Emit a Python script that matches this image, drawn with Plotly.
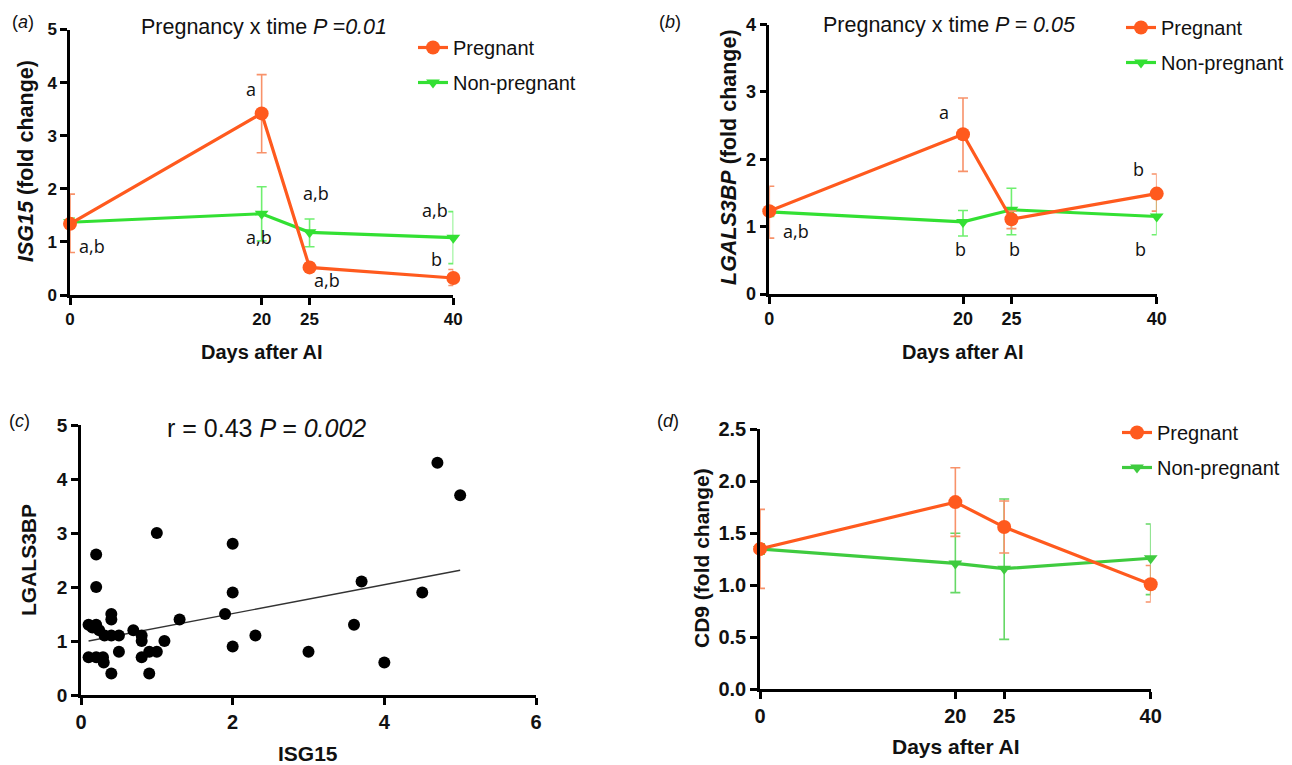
import plotly.graph_objects as go

# ---------------- data ----------------
days = [0, 20, 25, 40]

# (a) ISG15
isg_preg = [1.34, 3.42, 0.52, 0.32]
isg_preg_up = [0.56, 0.73, 0.05, 0.16]
isg_preg_dn = [0.54, 0.74, 0.05, 0.14]
isg_non = [1.37, 1.53, 1.18, 1.08]
isg_non_up = [0.08, 0.51, 0.25, 0.49]
isg_non_dn = [0.08, 0.51, 0.27, 0.49]

# (b) LGALS3BP
lg_preg = [1.23, 2.37, 1.11, 1.49]
lg_preg_up = [0.37, 0.54, 0.12, 0.29]
lg_preg_dn = [0.40, 0.55, 0.14, 0.26]
lg_non = [1.22, 1.07, 1.25, 1.15]
lg_non_up = [0.07, 0.17, 0.32, 0.27]
lg_non_dn = [0.07, 0.21, 0.37, 0.27]

# (c) correlation
sc_isg = [0.1, 0.2, 0.15, 0.24, 0.31, 0.4, 0.5, 0.4, 0.4, 0.69, 0.8, 0.8, 0.5,
          0.1, 0.2, 0.29, 0.3, 0.4, 0.8, 0.9, 1.0, 0.9, 1.1, 1.3, 1.9, 2.0,
          2.0, 2.0, 1.0, 0.2, 0.2, 2.3, 3.0, 4.7, 5.0, 3.7, 4.5, 3.6, 4.0]
sc_lg = [1.3, 1.3, 1.25, 1.2, 1.1, 1.1, 1.1, 1.5, 1.4, 1.2, 1.1, 1.0, 0.8,
         0.7, 0.7, 0.7, 0.6, 0.4, 0.7, 0.8, 0.8, 0.4, 1.0, 1.4, 1.5, 1.9,
         0.9, 2.8, 3.0, 2.6, 2.0, 1.1, 0.8, 4.3, 3.7, 2.1, 1.9, 1.3, 0.6]
fit_x = [0.1, 5.0]
fit_y = [1.0, 2.31]

# (d) CD9
cd_preg = [1.35, 1.80, 1.56, 1.01]
cd_preg_up = [0.38, 0.33, 0.25, 0.18]
cd_preg_dn = [0.38, 0.33, 0.25, 0.17]
cd_non = [1.35, 1.21, 1.16, 1.26]
cd_non_up = [0.05, 0.29, 0.67, 0.33]
cd_non_dn = [0.05, 0.28, 0.68, 0.35]

# ---------------- style ----------------
W, H = 1292, 765
FONT = "Arial, Liberation Sans, sans-serif"
ORANGE = "#FF5A1E"
ORANGE_ERR = "#F8926A"
GREEN = "#33E033"
GREEN_ERR = "#6FEF6F"
GREEN_D = "#3FCB3F"
GREEN_D_ERR = "#66D866"


def px_x(p):
    return p / W


def px_y(p):
    return 1 - p / H


fig = go.Figure()


def add_series(xa, ya, y, up, dn, name, color, ecolor, symbol, size, legend, group, rank):
    fig.add_trace(go.Scatter(
        x=days, y=y, xaxis=xa, yaxis=ya, name=name, mode="lines+markers",
        line=dict(color=color, width=3.2),
        marker=dict(color=color, symbol=symbol, size=size),
        error_y=dict(type="data", array=up, arrayminus=dn, color=ecolor,
                     thickness=1.6, width=5, symmetric=False),
        cliponaxis=False, legend=legend, legendgroup=group, legendrank=rank))


# (a)
add_series("x", "y", isg_non, isg_non_up, isg_non_dn, "Non-pregnant", GREEN, GREEN_ERR,
           "triangle-down", 12, "legend", "a2", 2)
add_series("x", "y", isg_preg, isg_preg_up, isg_preg_dn, "Pregnant", ORANGE, ORANGE_ERR,
           "circle", 14, "legend", "a1", 1)
# (b)
add_series("x2", "y2", lg_non, lg_non_up, lg_non_dn, "Non-pregnant", GREEN, GREEN_ERR,
           "triangle-down", 12, "legend2", "b2", 2)
add_series("x2", "y2", lg_preg, lg_preg_up, lg_preg_dn, "Pregnant", ORANGE, ORANGE_ERR,
           "circle", 14, "legend2", "b1", 1)
# (d)
add_series("x4", "y4", cd_non, cd_non_up, cd_non_dn, "Non-pregnant", GREEN_D, GREEN_D_ERR,
           "triangle-down", 12, "legend3", "d2", 2)
add_series("x4", "y4", cd_preg, cd_preg_up, cd_preg_dn, "Pregnant", ORANGE, ORANGE_ERR,
           "circle", 14, "legend3", "d1", 1)

# (c)
fig.add_trace(go.Scatter(x=fit_x, y=fit_y, xaxis="x3", yaxis="y3", mode="lines",
                         line=dict(color="#333333", width=1.3), showlegend=False))
fig.add_trace(go.Scatter(x=sc_isg, y=sc_lg, xaxis="x3", yaxis="y3", mode="markers",
                         marker=dict(color="black", size=12), cliponaxis=False,
                         showlegend=False))


def axis_style(domain, rng, tickvals, tsize, anchor, fmt=None):
    d = dict(domain=domain, range=rng, tickvals=tickvals, showgrid=False, zeroline=False,
             showline=True, linecolor="black", linewidth=2.5, ticks="outside",
             ticklen=7, tickwidth=2.5, tickcolor="black", anchor=anchor,
             tickfont=dict(family=FONT, size=tsize, color="#111111", weight="bold"),
             fixedrange=True, automargin=False)
    if fmt:
        d["tickformat"] = fmt
    return d


fig.update_layout(
    width=W, height=H, margin=dict(l=0, r=0, t=0, b=0, autoexpand=False),
    paper_bgcolor="white", plot_bgcolor="white",
    xaxis=axis_style([px_x(70), px_x(453.3)], [0, 40], days, 17, "y"),
    yaxis=axis_style([px_y(295), px_y(29.5)], [0, 5], [0, 1, 2, 3, 4, 5], 17, "x"),
    xaxis2=axis_style([px_x(769.3), px_x(1156.7)], [0, 40], days, 18, "y2"),
    yaxis2=axis_style([px_y(294), px_y(24.5)], [0, 4], [0, 1, 2, 3, 4], 18, "x2"),
    xaxis3=axis_style([px_x(81), px_x(536)], [0, 6], [0, 2, 4, 6], 20, "y3"),
    yaxis3=axis_style([px_y(695), px_y(425)], [0, 5], [0, 1, 2, 3, 4, 5], 19, "x3"),
    xaxis4=axis_style([px_x(760), px_x(1150.7)], [0, 40], days, 20, "y4"),
    yaxis4=axis_style([px_y(689.3), px_y(429.3)], [0, 2.5], [0, 0.5, 1, 1.5, 2, 2.5], 20, "x4", ".1f"),
)

leg_common = dict(bgcolor="rgba(0,0,0,0)", xanchor="left", yanchor="top", itemwidth=30,
                  tracegroupgap=6, traceorder="grouped")
LEGFONT = dict(family=FONT, size=20, color="#111111")
fig.update_layout(
    legend=dict(x=px_x(413), y=px_y(28), font=LEGFONT, **leg_common),
    legend2=dict(x=px_x(1121), y=px_y(8), font=LEGFONT, **leg_common),
    legend3=dict(x=px_x(1117), y=px_y(413), font=LEGFONT, **leg_common),
)

anns = []


def txt(x, y, text, size, xref="paper", yref="paper", family=FONT, bold=False, angle=0):
    anns.append(dict(x=x, y=y, xref=xref, yref=yref, text=text, showarrow=False,
                     xanchor="center", yanchor="middle", textangle=angle,
                     font=dict(family=family, size=size, color="#111111",
                               weight="bold" if bold else "normal")))


# panel letters
txt(px_x(23), px_y(22), "(<i>a</i>)", 18)
txt(px_x(670), px_y(22), "(<i>b</i>)", 18)
txt(px_x(19), px_y(421), "(<i>c</i>)", 18)
txt(px_x(668), px_y(421), "(<i>d</i>)", 18)

# titles
txt(px_x(264), px_y(27), "Pregnancy x time <i>P =0.01</i>", 21.5)
txt(px_x(949), px_y(25), "Pregnancy x time <i>P = 0.05</i>", 21.5)
txt(px_x(266), px_y(428), "r = 0.43 <i>P = 0.002</i>", 25)

# axis titles
txt(px_x(262), px_y(352), "Days after AI", 20, bold=True)
txt(px_x(963), px_y(352), "Days after AI", 20, bold=True)
txt(px_x(308), px_y(753), "ISG15", 21, bold=True)
txt(px_x(956), px_y(746), "Days after AI", 21, bold=True)
txt(px_x(26), px_y(161), "<i>ISG15</i> (fold change)", 21.5, bold=True, angle=-90)
txt(px_x(729), px_y(157), "<i>LGALS3BP</i> (fold change)", 21.5, bold=True, angle=-90)
txt(px_x(28), px_y(560), "LGALS3BP", 21, bold=True, angle=-90)
txt(px_x(701), px_y(558), "CD9 (fold change)", 21, bold=True, angle=-90)

# significance letters (data coordinates)
LET = "Open Sans, Lato, sans-serif"
letters_a = [(18.9, 3.87, "a"), (2.3, 0.93, "a,b"), (19.7, 1.10, "a,b"), (25.7, 1.93, "a,b"),
             (26.8, 0.29, "a,b"), (38.1, 1.60, "a,b"), (38.2, 0.67, "b")]
letters_b = [(18.0, 2.70, "a"), (2.8, 0.94, "a,b"), (19.7, 0.67, "b"), (25.3, 0.67, "b"),
             (38.3, 0.67, "b"), (38.1, 1.86, "b")]
for lx, ly, lt in letters_a:
    txt(lx, ly, lt, 18, xref="x", yref="y", family=LET)
for lx, ly, lt in letters_b:
    txt(lx, ly, lt, 18, xref="x2", yref="y2", family=LET)

fig.update_layout(annotations=anns)

fig.write_html("out.html", config={"displayModeBar": False},
               post_script="document.body.style.margin='0px';")
